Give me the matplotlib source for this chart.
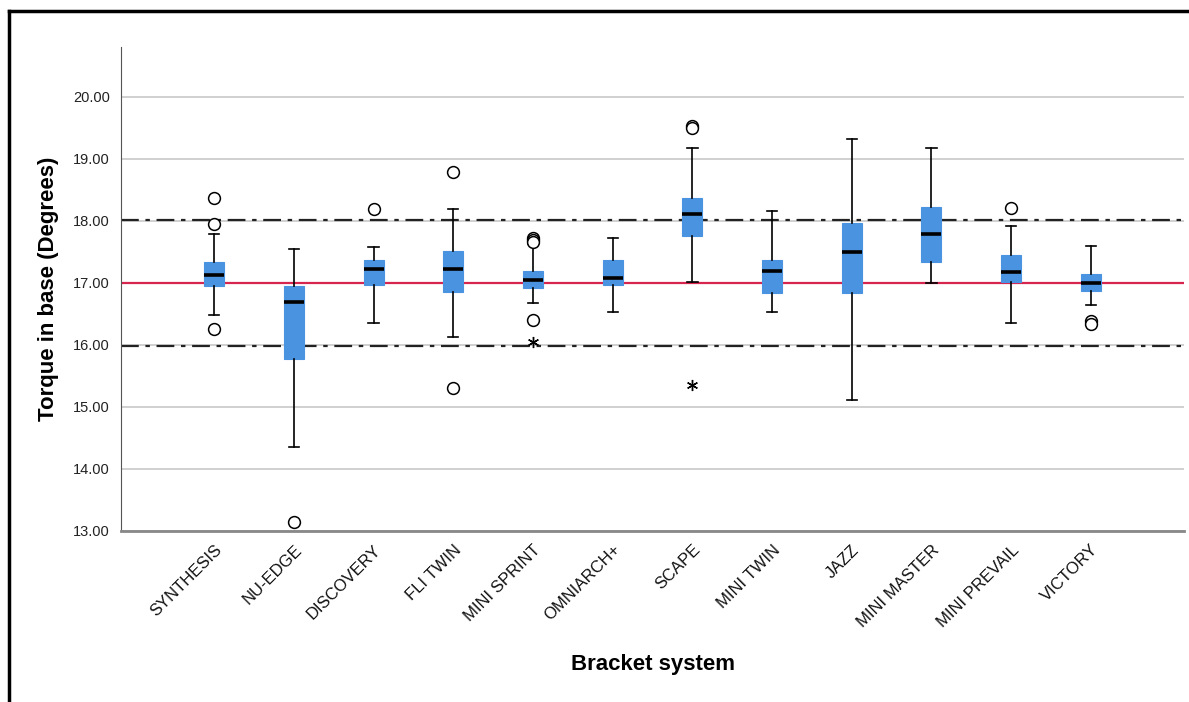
import numpy as np
import matplotlib
matplotlib.use("Agg")
import matplotlib.pyplot as plt
from matplotlib.lines import Line2D

plt.rcParams['font.family'] = ['Liberation Sans', 'DejaVu Sans']

# Box plot summaries
brackets = ["SYNTHESIS", "NU-EDGE", "DISCOVERY", "FLI TWIN", "MINI SPRINT", "OMNIARCH+",
            "SCAPE", "MINI TWIN", "JAZZ", "MINI MASTER", "MINI PREVAIL", "VICTORY"]
whisker_low = [16.48, 14.36, 16.35, 16.13, 16.68, 16.53, 17.02, 16.53, 15.11, 16.99, 16.36, 16.65]
q1 = [16.95, 15.77, 16.96, 16.85, 16.92, 16.96, 17.76, 16.84, 16.83, 17.33, 17.02, 16.86]
median = [17.12, 16.69, 17.22, 17.22, 17.05, 17.07, 18.11, 17.19, 17.49, 17.79, 17.18, 17.00]
q3 = [17.33, 16.95, 17.37, 17.51, 17.19, 17.37, 18.37, 17.37, 17.96, 18.22, 17.45, 17.15]
whisker_high = [17.78, 17.55, 17.58, 18.19, 17.63, 17.73, 19.18, 18.16, 19.32, 19.17, 17.91, 17.59]
outliers = [[18.37, 17.94, 16.25], [13.15], [18.19], [18.79, 15.31],
            [17.73, 17.69, 17.65, 16.40], [], [19.52, 19.49], [], [], [], [18.20], [16.39, 16.33]]
extremes = [[], [], [], [], [16.04], [], [15.35], [], [], [], [], []]

target = 17.0
limits = [18.02, 15.98]

box_color = "#4a93e0"

fig = plt.figure(figsize=(11.89, 7.02), dpi=100)
ax = fig.add_axes([0.1018, 0.2436, 0.894, 0.6894])

pos = np.arange(len(brackets))
stats = []
for i, name in enumerate(brackets):
    stats.append(dict(label=name, whislo=whisker_low[i], q1=q1[i], med=median[i],
                      q3=q3[i], whishi=whisker_high[i], fliers=outliers[i]))

ax.bxp(stats, positions=pos, widths=0.25, patch_artist=True,
       boxprops=dict(facecolor=box_color, edgecolor=box_color, linewidth=0.8),
       medianprops=dict(color="black", linewidth=2.6),
       whiskerprops=dict(color="black", linewidth=1.2),
       capprops=dict(color="black", linewidth=1.2),
       capwidths=0.13,
       flierprops=dict(marker="o", markerfacecolor="white", markeredgecolor="black",
                       markersize=8.5, markeredgewidth=1.1),
       zorder=3)

for i, vals in enumerate(extremes):
    if vals:
        ax.plot([pos[i]] * len(vals), vals, linestyle="none", marker=(6, 2, 0),
                markersize=8, color="black", markeredgewidth=1.0, zorder=4)

ax.axhline(target, color="#d6264f", linewidth=1.6, zorder=2)
for v in limits:
    ax.axhline(v, color="#222222", linewidth=1.6, linestyle=(0, (8, 3, 2, 3)), zorder=2)

ax.set_ylim(13, 20.8)
ax.set_xlim(-1.17, 12.17)
ax.set_yticks(np.arange(13, 21, 1))
ax.set_yticklabels([f"{v:.2f}" for v in np.arange(13, 21, 1)], fontsize=10.5, color="#222222")
ax.yaxis.grid(True, color="#c8c8c8", linewidth=1.2, zorder=0)
ax.set_axisbelow(True)
ax.tick_params(axis="both", length=0, pad=8)

ax.set_xticks(pos)
ax.set_xticklabels(brackets, rotation=45, ha="right", rotation_mode="anchor",
                   fontsize=12, color="#111111")

for s in ["top", "right"]:
    ax.spines[s].set_visible(False)
ax.spines["left"].set_color("#555555")
ax.spines["bottom"].set_color("#888888")
ax.spines["bottom"].set_linewidth(2)

ax.set_ylabel("Torque in base (Degrees)", fontsize=16, fontweight="bold", labelpad=10)
ax.set_xlabel("Bracket system", fontsize=16, fontweight="bold")
ax.xaxis.set_label_coords(0.5, -0.255)

# frame around the figure (clipped on right and bottom in the original)
fig.add_artist(Line2D([0.0076, 1.0], [0.9843, 0.9843], color="black", linewidth=2.5,
                      transform=fig.transFigure))
fig.add_artist(Line2D([0.0076, 0.0076], [0.0, 0.9843], color="black", linewidth=2.5,
                      transform=fig.transFigure))

fig.savefig("out.png", dpi=100)
